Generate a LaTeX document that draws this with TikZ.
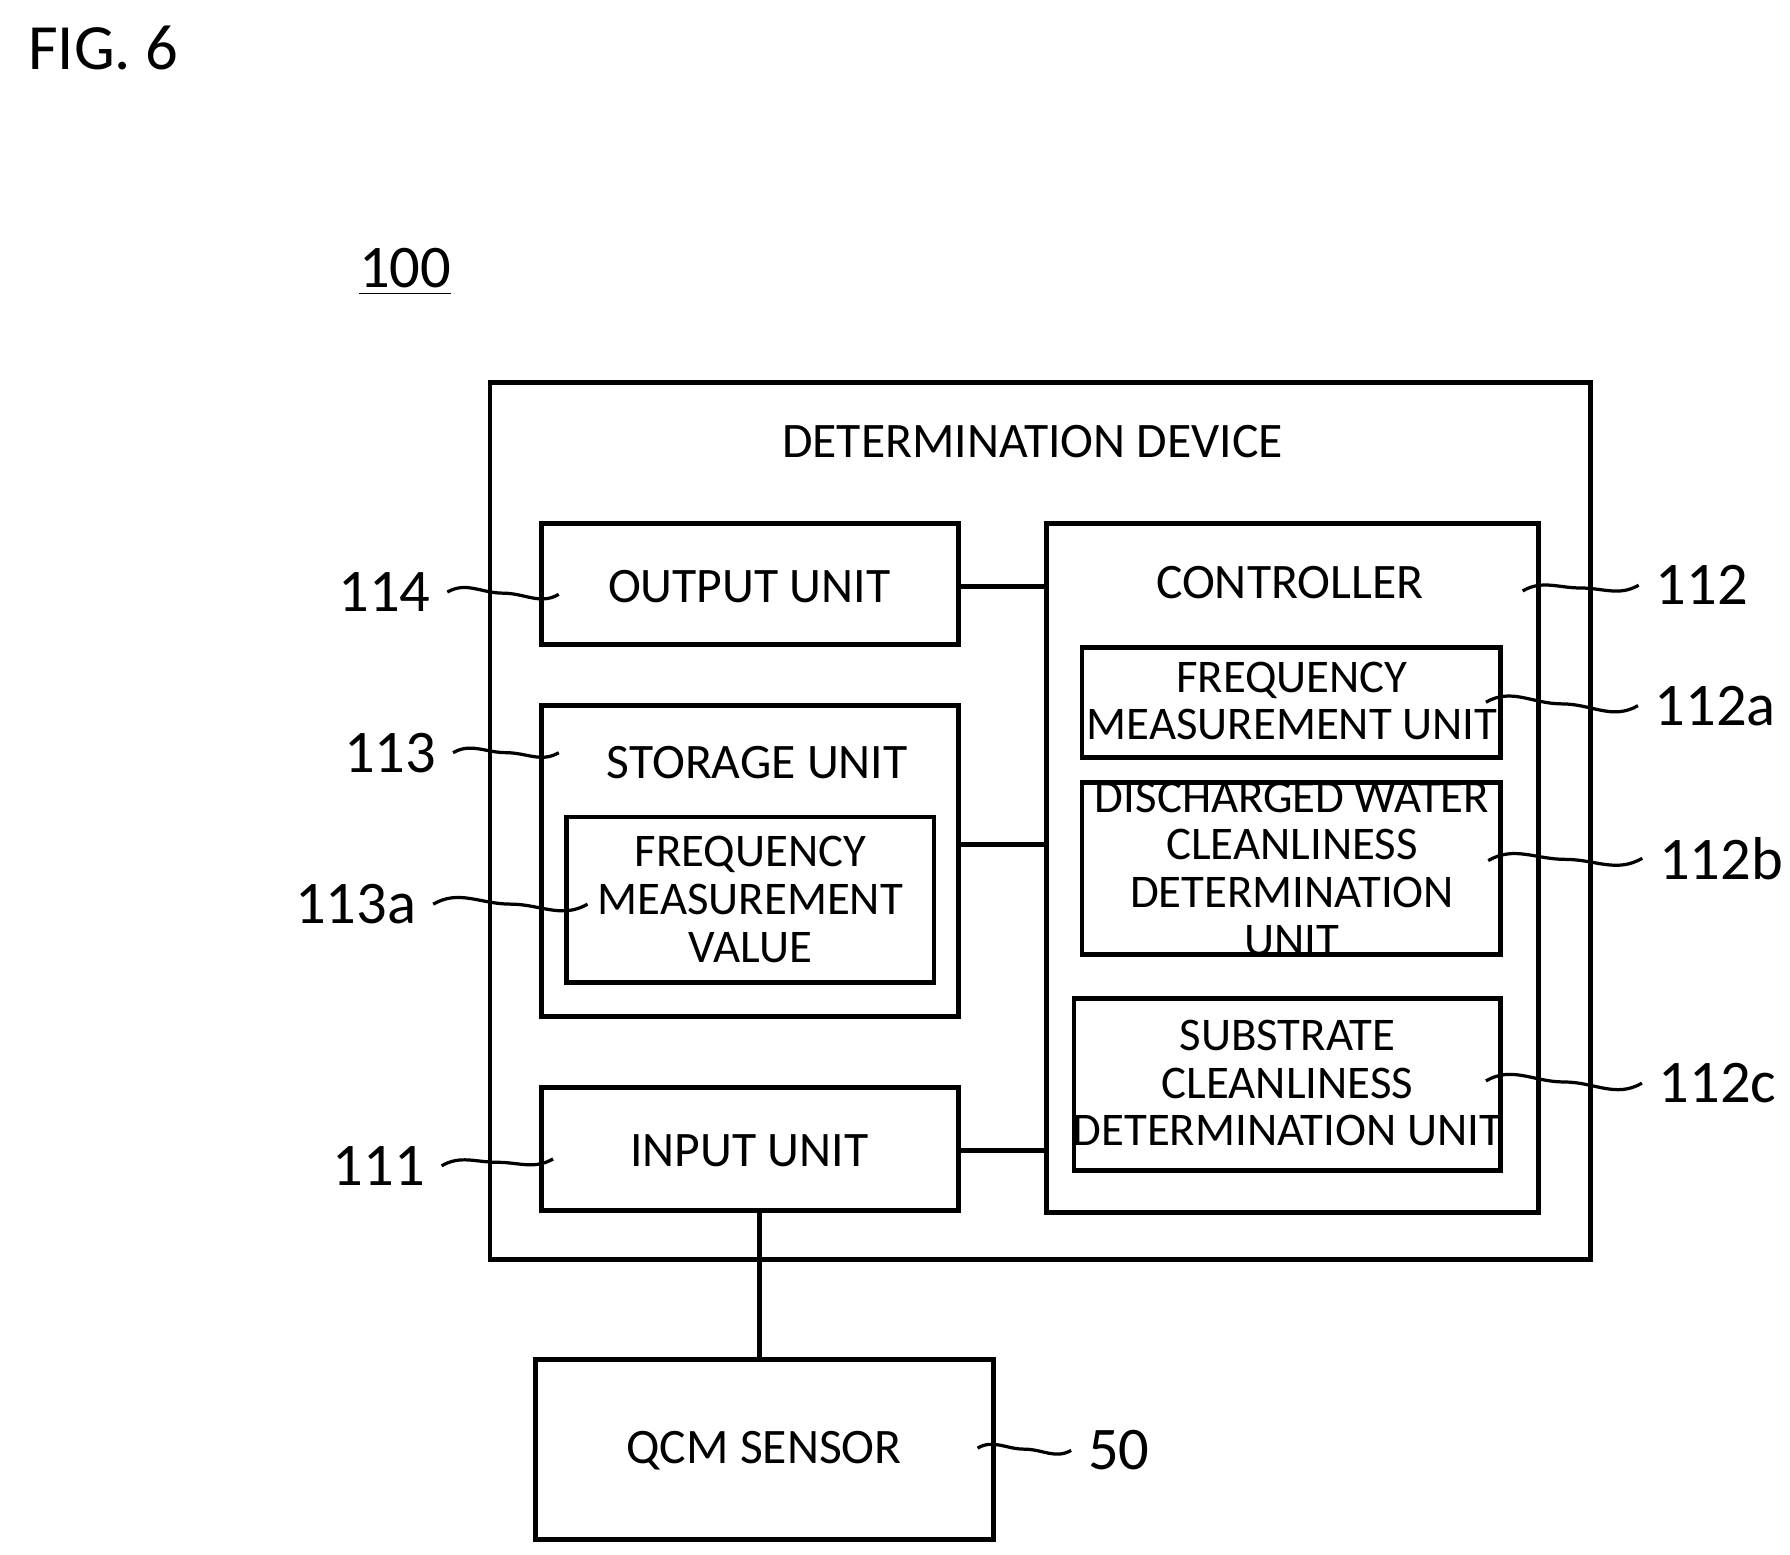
\documentclass[tikz,border=0pt]{standalone}
\usepackage{fontspec}
\setmainfont{Carlito}
\usetikzlibrary{positioning,calc}

\tikzset{
  box/.style={draw,line width=1.2pt,inner sep=0pt,align=center,font=\fontsize{11.6}{11.8}\selectfont},
  lbl/.style={font=\fontsize{12.3}{14}\selectfont},
  ref/.style={font=\fontsize{15}{17}\selectfont,inner sep=4pt},
  tilde/.style={line width=0.8pt}
}
\newcommand{\wave}[2]{\draw[tilde] (#1) to[out=30,in=180] ($(#1)!.5!(#2)+(0,-0.05)$) to[out=0,in=210] (#2);}

\begin{document}
\begin{tikzpicture}[x=0.01cm,y=-0.01cm]
    \useasboundingbox (0,0) rectangle (1560,1355);
    % heading
    \node[font=\fontsize{16}{19}\selectfont] (fig) at (90,42) {FIG. 6};
    \node[ref] (sys) at (353,237) {\underline{100}};

    % determination device
    \draw[line width=1.2pt] (427,333) rectangle (1386,1098);
    \node[lbl] (dev) at (900,385) {DETERMINATION DEVICE};

    % left column
    \draw[line width=1.2pt] (472,456) rectangle (835,562);
    \node[lbl] (out) at (653,511) {OUTPUT UNIT};
    \draw[line width=1.2pt] (472,615) rectangle (835,886);
    \node[lbl] (sto) at (660,665) {STORAGE UNIT};
    \draw[line width=1.2pt] (494,712) rectangle (814,856);
    \node[box,draw=none] (val) at (654,784) {FREQUENCY\\MEASUREMENT\\VALUE};
    \draw[line width=1.2pt] (472,948) rectangle (835,1055);
    \node[lbl] (inp) at (653,1003) {INPUT UNIT};

    % controller
    \draw[line width=1.2pt] (912,456) rectangle (1341,1057);
    \node[lbl] (ctl) at (1124,508) {CONTROLLER};
    \draw[line width=1.2pt] (943,564) rectangle (1308,660);
    \node[box,draw=none] (fmu) at (1126,611) {FREQUENCY\\MEASUREMENT UNIT};
    \draw[line width=1.2pt] (943,682) rectangle (1308,832);
    \node[box,draw=none] (dwc) at (1126,757) {DISCHARGED WATER\\CLEANLINESS\\DETERMINATION\\UNIT};
    \draw[line width=1.2pt] (936,870) rectangle (1308,1020);
    \node[box,draw=none] (scd) at (1122,944) {SUBSTRATE\\CLEANLINESS\\DETERMINATION UNIT};

    % sensor
    \draw[line width=1.2pt] (467,1185) rectangle (866,1342);
    \node[lbl] (qcm) at (666,1264) {QCM SENSOR};

    % connections
    \draw[line width=1.2pt] (835,511) -- (912,511);
    \draw[line width=1.2pt] (835,736) -- (912,736);
    \draw[line width=1.2pt] (835,1003) -- (912,1003);
    \draw[line width=1.2pt] (662,1055) -- (662,1185);

    % reference numerals
    \node[ref] (n114) at (335,516) {114};
    \node[ref] (n113) at (340,656) {113};
    \node[ref] (n113a) at (310,788) {113a};
    \node[ref] (n111) at (330,1016) {111};
    \node[ref] (n112) at (1483,510) {112};
    \node[ref] (n112a) at (1495,615) {112a};
    \node[ref] (n112b) at (1500,748) {112b};
    \node[ref] (n112c) at (1497,944) {112c};
    \node[ref] (n50) at (975,1264) {50};
    \coordinate (e114) at (487,518);
    \coordinate (e113) at (487,656);
    \coordinate (e113a) at (512,788);
    \coordinate (e111) at (482,1010);
    \coordinate (e112) at (1327,515);
    \coordinate (e112a) at (1295,612);
    \coordinate (e112b) at (1297,750);
    \coordinate (e112c) at (1295,942);
    \coordinate (e50) at (852,1262);
    \wave{n114.east}{e114}
    \wave{n113.east}{e113}
    \wave{n113a.east}{e113a}
    \wave{n111.east}{e111}
    \wave{e112}{n112.west}
    \wave{e112a}{n112a.west}
    \wave{e112b}{n112b.west}
    \wave{e112c}{n112c.west}
    \wave{e50}{n50.west}
\end{tikzpicture}
\end{document}
